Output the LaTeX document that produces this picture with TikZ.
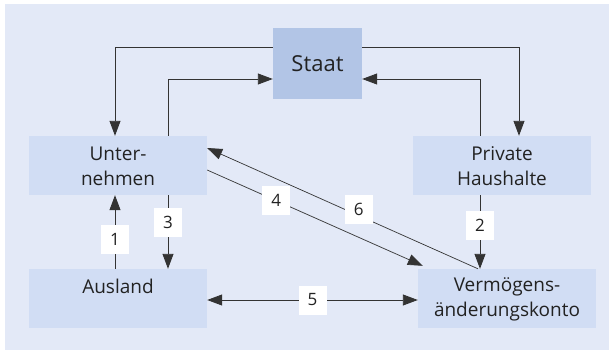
\documentclass[tikz,border=0pt]{standalone}
\usepackage{fontspec}
\setmainfont{Open Sans}
\usetikzlibrary{arrows.meta}
\definecolor{bgblue}{RGB}{227,233,247}
\definecolor{boxblue}{RGB}{209,221,244}
\definecolor{staatblue}{RGB}{178,197,230}
\definecolor{txt}{RGB}{34,34,34}
\newcommand{\lstrut}{\vrule height 16pt depth 1.5pt width 0pt}
\begin{document}
\begin{tikzpicture}[x=1pt,y=-1pt,
    box/.style={fill=boxblue, minimum width=178pt, minimum height=59pt, inner sep=0pt,
        align=center, font=\fontsize{19}{25.5}\selectfont, text=txt},
    staatbox/.style={box, fill=staatblue, minimum width=89pt, minimum height=71pt,
        font=\fontsize{22}{26}\selectfont},
    num/.style={fill=white, minimum width=28pt, minimum height=29pt, inner sep=0pt,
        font=\fontsize{17}{20}\selectfont, text=txt},
    flow/.style={draw=black!80, line width=0.9pt, -{Triangle[length=15pt,width=11pt]}},
    flowtwo/.style={flow, {Triangle[length=15pt,width=11pt]}-{Triangle[length=15pt,width=11pt]}}]
    \useasboundingbox (0,0) rectangle (609,351);
    \fill[bgblue] (5,4) rectangle (609,350);

    \node[staatbox] (staat) at (317.5,63.5) {Staat};
    \node[box] (unt) at (118,165.5) {Unter-\lstrut\\nehmen\lstrut};
    \node[box] (ph) at (502,165.5) {Private\lstrut\\Haushalte\lstrut};
    \node[box] (aus) at (118,298.5) {Ausland\lstrut\\\lstrut};
    \node[box] (vk) at (507,298.5) {Vermögens-\lstrut\\änderungskonto\lstrut};

    \draw[flow] ([yshift=16.5pt]staat.west) -| ([xshift=-3pt]unt.north);
    \draw[flow] ([xshift=50pt]unt.north) |- ([yshift=-15.5pt]staat.west);
    \draw[flow] ([yshift=16.5pt]staat.east) -| ([xshift=17pt]ph.north);
    \draw[flow] ([xshift=-22pt]ph.north) |- ([yshift=-15.5pt]staat.east);

    \draw[flow] ([xshift=-3pt]aus.north) -- ([xshift=-3pt]unt.south)
        node[num,pos=0.4] (n1) {1};
    \draw[flow] ([xshift=-22pt]ph.south) -- ([xshift=-22pt]ph.south |- vk.north)
        node[num,pos=0.41] (n2) {2};
    \draw[flow] ([xshift=50pt]unt.south) -- ([xshift=50pt]aus.north)
        node[num,pos=0.37] (n3) {3};
    \draw[flow, line width=0.7pt] ([yshift=-4.5pt]unt.east) -- ([shift={(5pt,3pt)}]vk.north west)
        node[num,pos=0.32] (n4) {4};
    \draw[flowtwo] ([yshift=-1.5pt]aus.east) -- ([yshift=-1.5pt]vk.west)
        node[num,pos=0.5] (n5) {5};
    \draw[flow, line width=0.7pt] ([xshift=-29pt]vk.north) -- ([yshift=17.5pt]unt.east)
        node[num,pos=0.44,yshift=6pt] (n6) {6};
\end{tikzpicture}
\end{document}
